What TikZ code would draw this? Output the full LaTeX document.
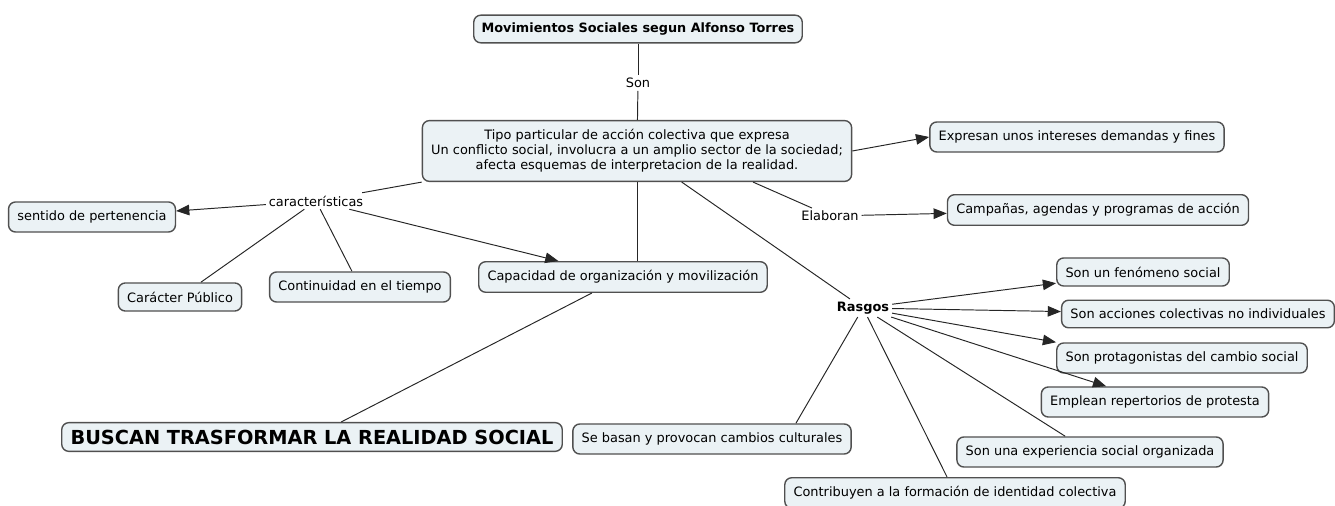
\documentclass[tikz,border=0pt]{standalone}
\usepackage{fontspec}
\setmainfont{DejaVu Sans}
\usepackage{xcolor}
\usetikzlibrary{arrows.meta,calc,positioning}
\definecolor{boxfill}{HTML}{EBF2F5}
\definecolor{boxline}{HTML}{505050}

\begin{document}
\begin{tikzpicture}[x=0.02cm,y=-0.02cm,
                    concept node/.style={draw=boxline,fill=boxfill,rounded corners=4pt,line width=0.8pt,
                                         font=\fontsize{7.35}{8.6}\selectfont,inner xsep=5pt,inner ysep=5pt},
                    link label/.style={font=\fontsize{7.35}{8.6}\selectfont,inner sep=1.5pt},
                    link/.style={line width=0.55pt,black!85},
                    arrow link/.style={link,-{Triangle[length=7.5pt,width=6pt]}}]
 \useasboundingbox (0,0) rectangle (1335,506);

%Top of the map
 \node[concept node,font=\bfseries\fontsize{7.3}{8.6}\selectfont,inner ysep=4.3pt,inner xsep=4.5pt] (movimientos) at (638,29) {Movimientos Sociales segun Alfonso Torres};
 \node[link label] (son) at (638,83) {Son};
 \node[concept node,align=center] (tipo) at (637,151) {Tipo particular de acción colectiva que expresa\\Un conflicto social, involucra a un amplio sector de la sociedad;\\afecta esquemas de interpretacion de la realidad.};

 \draw[link] (movimientos) -- (son);
 \draw[link] (son) -- (tipo);

%Right side
 \node[concept node] (expresan) at (1077,137) {Expresan unos intereses demandas y fines};
 \node[link label] (elaboran) at (830,216) {Elaboran};
 \node[concept node] (campanas) at (1098,210) {Campañas, agendas y programas de acción};

 \draw[arrow link] (tipo.east) -- (expresan.west);
 \draw[link] (tipo.-15) -- (elaboran);
 \draw[arrow link] (elaboran) -- (campanas);

%Caracteristicas
 \node[link label] (caract) at (316,201) {características};
 \node[concept node] (sentido) at (92,217) {sentido de pertenencia};
 \node[concept node] (publico) at (180,297) {Carácter Público};
 \node[concept node] (continuidad) at (360,287) {Continuidad en el tiempo};
 \node[concept node] (capacidad) at (623,277) {Capacidad de organización y movilización};
 \node[concept node,font=\bfseries\fontsize{11}{12}\selectfont,inner ysep=4pt] (buscan) at (312,437) {BUSCAN TRASFORMAR LA REALIDAD SOCIAL};

 \draw[link] (tipo.south west) -- (caract);
 \draw[arrow link] (caract) -- (sentido);
 \draw[link] (caract) -- (publico);
 \draw[link] (caract) -- (continuidad);
 \draw[arrow link] (caract) -- (capacidad);
 \draw[link] (tipo.south) -- (capacidad.north -| tipo.south);
 \draw[link] (capacidad) -- (buscan);

%Rasgos
 \node[link label,font=\bfseries\fontsize{7.35}{8.6}\selectfont] (rasgos) at (863,308) {Rasgos};
 \node[concept node] (fenomeno) at (1143,272) {Son un fenómeno social};
 \node[concept node] (acciones) at (1198,314) {Son acciones colectivas no individuales};
 \node[concept node] (protagonistas) at (1182,358) {Son protagonistas del cambio social};
 \node[concept node] (emplean) at (1155,402) {Emplean repertorios de protesta};
 \node[concept node] (experiencia) at (1090,452) {Son una experiencia social organizada};
 \node[concept node] (contribuyen) at (955,493) {Contribuyen a la formación de identidad colectiva};
 \node[concept node] (culturales) at (712,439) {Se basan y provocan cambios culturales};

 \draw[link] (tipo) -- (rasgos);
 \draw[arrow link] (rasgos) -- (fenomeno);
 \draw[arrow link] (rasgos) -- (acciones);
 \draw[arrow link] (rasgos) -- (protagonistas.north west);
 \draw[arrow link] (rasgos) -- (emplean);
 \draw[link] (rasgos) -- (experiencia);
 \draw[link] (rasgos) -- (contribuyen);
 \draw[link] (rasgos) -- ($(culturales.north)!0.6!(culturales.north east)$);

\end{tikzpicture}
\end{document}
